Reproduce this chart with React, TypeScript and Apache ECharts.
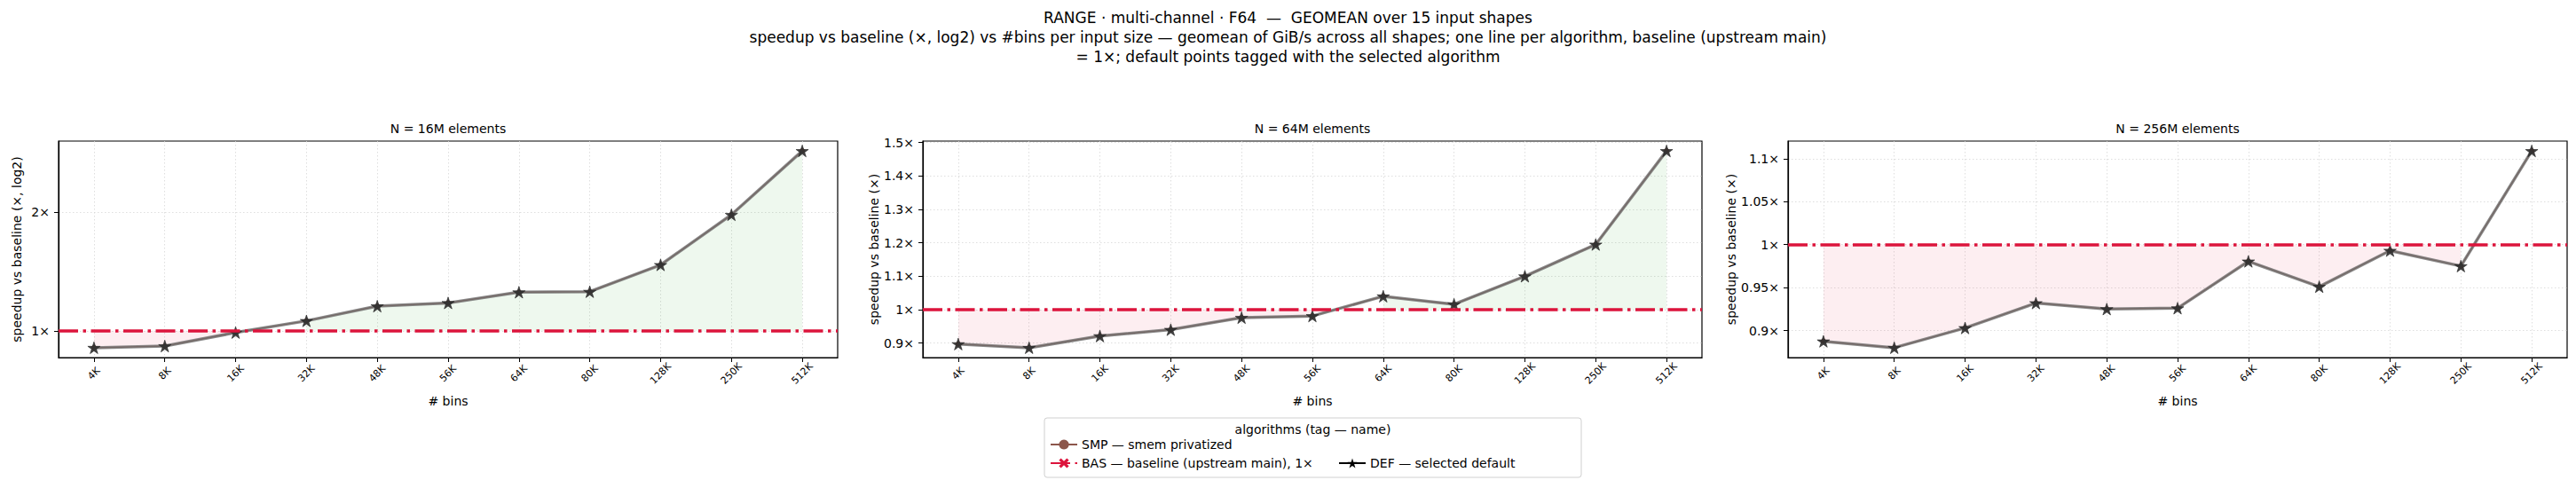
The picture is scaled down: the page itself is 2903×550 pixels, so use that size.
import React, { useEffect, useRef } from 'react';
import * as echarts from 'echarts';

// ---------- data ----------
const CATEGORIES = ['4K', '8K', '16K', '32K', '48K', '56K', '64K', '80K', '128K', '250K', '512K'];

const SPEEDUP_16M = [0.906, 0.915, 0.99, 1.06, 1.155, 1.177, 1.253, 1.257, 1.47, 1.97, 2.86];
const SPEEDUP_64M = [0.897, 0.886, 0.921, 0.94, 0.976, 0.981, 1.04, 1.016, 1.1, 1.195, 1.475];
const SPEEDUP_256M = [0.8875, 0.88, 0.903, 0.932, 0.925, 0.926, 0.9805, 0.951, 0.993, 0.975, 1.109];

const Y_TICKS_16M = [1, 2];
const Y_TICKS_64M = [0.9, 1, 1.1, 1.2, 1.3, 1.4, 1.5];
const Y_TICKS_256M = [0.9, 0.95, 1, 1.05, 1.1];

const PANEL_TITLES = ['N = 16M elements', 'N = 64M elements', 'N = 256M elements'];
const Y_NAMES = ['speedup vs baseline (×, log2)', 'speedup vs baseline (×)', 'speedup vs baseline (×)'];
const X_NAME = '# bins';
const BASELINE_VALUE = 1;

const TITLE_LINES = [
  'RANGE · multi-channel · F64  —  GEOMEAN over 15 input shapes',
  'speedup vs baseline (×, log2) vs #bins per input size — geomean of GiB/s across all shapes; one line per algorithm, baseline (upstream main)',
  '= 1×; default points tagged with the selected algorithm',
];

const LEGEND_TITLE = 'algorithms (tag — name)';
const NAME_SMP = 'SMP — smem privatized';
const NAME_BAS = 'BAS — baseline (upstream main), 1×';
const NAME_DEF = 'DEF — selected default';

// ---------- style ----------
const FONT = 'DejaVu Sans';
const RED = '#dc143c';
const BROWN = '#8c564b';
const STAR =
  'path://M0,-10L2.245,-3.09L9.511,-3.09L3.633,1.18L5.878,8.09L0,3.82L-5.878,8.09L-3.633,1.18L-9.511,-3.09L-2.245,-3.09Z';
const XMARK = 'path://M0,2L2,0L5,3L8,0L10,2L7,5L10,8L8,10L5,7L2,10L0,8L3,5Z';
const DASHDOT = [22, 5.5, 3.5, 5.5];

const GRID_LEFTS = [66, 1040, 2015];
const GRID_TOP = 159;
const GRID_W = 878;
const GRID_H = 244;
const NAME_GAPS = [40, 38, 47];

function linearExtent(vals: number[]) {
  const lo = Math.min(...vals);
  const hi = Math.max(...vals);
  const m = (hi - lo) * 0.05;
  return [lo - m, hi + m];
}
function log2Extent(vals: number[]) {
  const lo = Math.log2(Math.min(...vals));
  const hi = Math.log2(Math.max(...vals));
  const m = (hi - lo) * 0.05;
  return [Math.pow(2, lo - m), Math.pow(2, hi + m)];
}

function buildOption() {
  const panels = [SPEEDUP_16M, SPEEDUP_64M, SPEEDUP_256M];
  const ticks = [Y_TICKS_16M, Y_TICKS_64M, Y_TICKS_256M];

  const grids = panels.map((_, i) => ({
    left: GRID_LEFTS[i],
    top: GRID_TOP,
    width: GRID_W,
    height: GRID_H,
    show: true,
    borderColor: '#000',
    borderWidth: 1.2,
    backgroundColor: 'transparent',
  }));

  const gridLine = { color: '#d6d6d6', width: 0.8, type: [1.5, 2.5] };

  const xAxes = panels.map((_, i) => ({
    type: 'category',
    gridIndex: i,
    data: CATEGORIES,
    boundaryGap: true,
    name: X_NAME,
    nameLocation: 'middle',
    nameGap: 42,
    nameTextStyle: { fontSize: 14, color: '#000', fontFamily: FONT },
    axisLine: { show: true, lineStyle: { color: '#000', width: 1.2 } },
    axisTick: { show: true, alignWithLabel: true, interval: 0, length: 5, lineStyle: { color: '#000', width: 1 } },
    axisLabel: {
      interval: 0,
      rotate: 45,
      fontSize: 11,
      color: '#000',
      fontFamily: FONT,
      align: 'center',
      verticalAlign: 'middle',
      margin: 18,
    },
    splitLine: { show: true, alignWithLabel: true, interval: 0, lineStyle: gridLine },
  }));

  const yAxes = panels.map((vals, i) => {
    const ext = i === 0 ? log2Extent(vals) : linearExtent(vals);
    const tk = ticks[i];
    return {
      type: i === 0 ? 'log' : 'value',
      logBase: 2,
      gridIndex: i,
      min: ext[0],
      max: ext[1],
      name: Y_NAMES[i],
      nameLocation: 'middle',
      nameGap: NAME_GAPS[i],
      nameTextStyle: { fontSize: 14, color: '#000', fontFamily: FONT },
      axisLine: { show: true, lineStyle: { color: '#000', width: 1.2 } },
      axisTick: { show: true, length: 5, lineStyle: { color: '#000', width: 1 }, customValues: tk },
      axisLabel: {
        fontSize: 14,
        color: '#000',
        fontFamily: FONT,
        margin: 10,
        customValues: tk,
        showMinLabel: true,
        showMaxLabel: true,
        formatter: (v: number) => {
          const hit = tk.some((t) => Math.abs(t - v) < 1e-6);
          return hit ? `${parseFloat(v.toFixed(2))}×` : '';
        },
      },
      splitLine: { show: true, lineStyle: gridLine },
    };
  });

  const series: any[] = [];
  panels.forEach((vals, i) => {
    series.push({
      name: `below-${i}`,
      type: 'line',
      xAxisIndex: i,
      yAxisIndex: i,
      data: vals.map((v) => (v < BASELINE_VALUE ? v : null)),
      connectNulls: false,
      symbol: 'none',
      silent: true,
      lineStyle: { width: 0, opacity: 0 },
      areaStyle: { origin: BASELINE_VALUE, color: 'rgba(220,20,60,0.1)' },
      z: 1,
    });
    series.push({
      name: `above-${i}`,
      type: 'line',
      xAxisIndex: i,
      yAxisIndex: i,
      data: vals.map((v) => (v >= BASELINE_VALUE ? v : null)),
      connectNulls: false,
      symbol: 'none',
      silent: true,
      lineStyle: { width: 0, opacity: 0 },
      areaStyle: { origin: BASELINE_VALUE, color: 'rgba(44,160,44,0.11)' },
      z: 1,
    });
    series.push({
      name: `smp-${i}`,
      type: 'line',
      xAxisIndex: i,
      yAxisIndex: i,
      data: vals,
      symbol: 'circle',
      symbolSize: 6,
      silent: true,
      itemStyle: { color: BROWN },
      lineStyle: { color: BROWN, width: 1.5 },
      z: 2,
      markLine: {
        silent: true,
        symbol: ['none', 'none'],
        label: { show: false },
        lineStyle: { color: RED, width: 3.5, type: DASHDOT, opacity: 1 },
        data: [{ yAxis: BASELINE_VALUE }],
      },
    });
    series.push({
      name: `def-${i}`,
      type: 'line',
      xAxisIndex: i,
      yAxisIndex: i,
      data: vals,
      symbol: STAR,
      symbolSize: 14,
      symbolKeepAspect: true,
      silent: true,
      itemStyle: { color: 'rgba(45,45,45,0.9)', borderColor: '#222', borderWidth: 0.6 },
      lineStyle: { color: 'rgba(110,110,110,0.8)', width: 3.5 },
      z: 3,
    });
  });

  // legend proxies (no data)
  series.push({
    name: NAME_SMP,
    type: 'line',
    xAxisIndex: 0,
    yAxisIndex: 0,
    data: [],
    symbol: 'circle',
    itemStyle: { color: BROWN },
    lineStyle: { color: BROWN, width: 2 },
  });
  series.push({
    name: NAME_BAS,
    type: 'line',
    xAxisIndex: 0,
    yAxisIndex: 0,
    data: [],
    symbol: XMARK,
    itemStyle: { color: RED },
    lineStyle: { color: RED, width: 3.5, type: DASHDOT },
  });
  series.push({
    name: NAME_DEF,
    type: 'line',
    xAxisIndex: 0,
    yAxisIndex: 0,
    data: [],
    symbol: STAR,
    symbolKeepAspect: true,
    itemStyle: { color: '#000' },
    lineStyle: { color: '#000', width: 3 },
  });

  const legendText = { fontSize: 14, color: '#000', fontFamily: FONT };
  const legends = [
    {
      data: [NAME_SMP, NAME_BAS],
      orient: 'vertical',
      left: 1183,
      top: 494,
      itemWidth: 30,
      itemHeight: 14,
      itemGap: 7,
      padding: 0,
      selectedMode: false,
      textStyle: legendText,
      z: 5,
    },
    {
      data: [NAME_DEF],
      orient: 'vertical',
      left: 1508,
      top: 515,
      itemWidth: 30,
      itemHeight: 14,
      padding: 0,
      selectedMode: false,
      textStyle: legendText,
      z: 5,
    },
  ];

  const graphics: any[] = [];
  TITLE_LINES.forEach((t, k) => {
    graphics.push({
      type: 'text',
      x: 1451.5,
      y: 20 + k * 22,
      z: 10,
      style: { text: t, fill: '#000', font: `17px "${FONT}"`, align: 'center', verticalAlign: 'middle' },
    });
  });
  PANEL_TITLES.forEach((t, i) => {
    graphics.push({
      type: 'text',
      x: GRID_LEFTS[i] + GRID_W / 2,
      y: 145,
      z: 10,
      style: { text: t, fill: '#000', font: `14px "${FONT}"`, align: 'center', verticalAlign: 'middle' },
    });
  });
  graphics.push({
    type: 'rect',
    x: 1177,
    y: 471,
    z: 0,
    shape: { x: 0, y: 0, width: 605, height: 67, r: 3 },
    style: { fill: '#fff', stroke: '#d0d0d0', lineWidth: 1 },
  });
  graphics.push({
    type: 'text',
    x: 1479.5,
    y: 484,
    z: 10,
    style: { text: LEGEND_TITLE, fill: '#000', font: `14px "${FONT}"`, align: 'center', verticalAlign: 'middle' },
  });

  return {
    animation: false,
    backgroundColor: '#fff',
    textStyle: { fontFamily: FONT },
    grid: grids,
    xAxis: xAxes,
    yAxis: yAxes,
    legend: legends,
    series,
    graphic: { elements: graphics },
  };
}

export default function App() {
  const ref = useRef<HTMLDivElement>(null);
  useEffect(() => {
    if (!ref.current) return;
    const chart = echarts.init(ref.current, undefined, { renderer: 'svg' });
    chart.setOption(buildOption() as any);
    return () => chart.dispose();
  }, []);
  return (
    <div
      ref={ref}
      style={{ position: 'fixed', left: 0, top: 0, width: 2903, height: 550, background: '#fff' }}
    />
  );
}
